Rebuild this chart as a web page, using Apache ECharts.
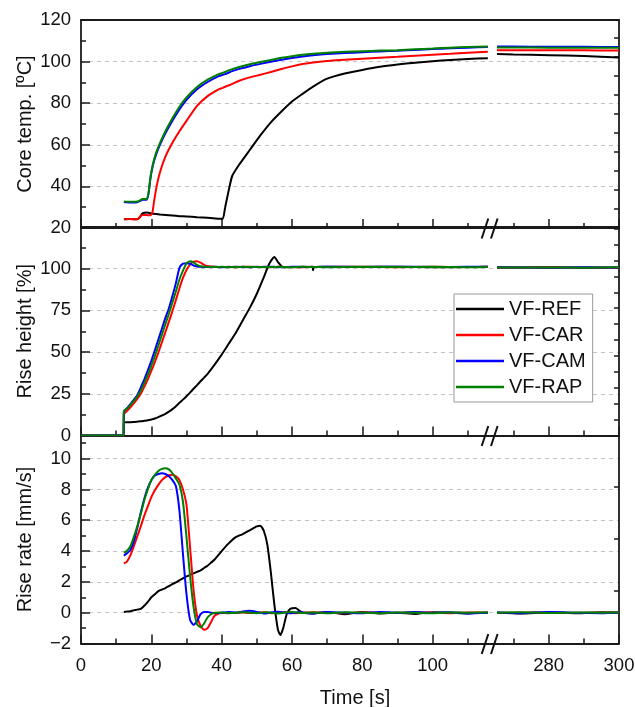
<!DOCTYPE html>
<html>
<head>
<meta charset="utf-8">
<script src="https://cdn.jsdelivr.net/npm/echarts@6.0.0/dist/echarts.min.js"></script>
<style>
  html, body { margin: 0; padding: 0; background: #fff; }
  #chart { width: 635px; height: 707px; }
</style>
</head>
<body>
<div id="chart"></div>
<script>
var seriesNames = ['VF-REF', 'VF-CAR', 'VF-CAM', 'VF-RAP'];
var seriesColors = ['#000000', '#ff0000', '#0000ff', '#008000'];

// x axis is broken between ~116 s and ~264 s
var xTickLabels = [0, 20, 40, 60, 80, 100, 280, 300];
var xMinorTicks = [10, 30, 50, 70, 90, 110, 270, 290];
var breakStart = 116.5;
var breakEnd = 263.5;

// core temperature [ºC]
var tempTime = [12.2, 14, 16, 16.8, 17.5, 18.7, 19.2, 19.8, 20.3, 20.8, 21.5, 22.5, 24, 26, 28, 30, 33, 36, 39, 40.3,
  41, 42, 43, 45, 48, 51, 54, 57, 60, 63, 66, 70, 75, 80, 85, 90, 95, 100, 105, 110, 115.7,
  265.3, 270, 280, 290, 300];
var tempREF = [24.2, 24.3, 24.2, 25.3, 27.0, 27.5, 27.3, 27.1, 26.9, 26.8, 26.7, 26.5, 26.3, 26.0, 25.7, 25.5, 25.2, 24.9, 24.5, 24.4,
  30, 38, 45, 50.5, 57.5, 64.5, 70.8, 76, 80.8, 84.5, 88, 91.8, 94.3, 96, 97.5, 98.6, 99.5, 100.2, 100.8, 101.3, 101.6,
  103.6, 103.4, 103.1, 102.7, 102.0];
var tempCAR = [24.2, 24.3, 24.2, 25.5, 26.2, 26.2, 26.1, 26.2, 27.5, 33, 40, 47, 54.3, 61, 66.5, 71.5, 78.7, 83.4, 86.5, 87.4,
  87.9, 88.6, 89.3, 90.8, 92.4, 93.7, 95.0, 96.4, 97.7, 98.8, 99.6, 100.3, 100.9, 101.4, 101.9, 102.3, 102.8, 103.3, 103.8, 104.3, 104.7,
  105.5, 105.5, 105.4, 105.4, 105.3];
var tempCAM = [32.5, 32.3, 32.4, 33.0, 33.6, 33.6, 36.5, 44.5, 49, 52.3, 56, 60.2, 65.5, 71.6, 77, 81.6, 86.7, 90.2, 92.9, 93.6,
  94.0, 94.7, 95.4, 96.5, 97.8, 98.9, 99.9, 100.9, 101.7, 102.4, 103.0, 103.6, 104.1, 104.5, 104.9, 105.2, 105.6, 106.0, 106.4, 106.7, 107.0,
  107.2, 107.2, 107.1, 107.1, 107.0];
var tempRAP = [32.8, 32.6, 32.7, 33.3, 33.9, 33.9, 37, 45, 49.5, 53, 56.8, 61, 66.5, 72.8, 78.3, 82.8, 87.8, 91.3, 93.9, 94.6,
  95.0, 95.8, 96.4, 97.4, 98.7, 99.8, 100.8, 101.8, 102.6, 103.3, 103.8, 104.3, 104.7, 105.0, 105.3, 105.5, 105.9, 106.3, 106.7, 107.0, 107.3,
  106.8, 106.8, 106.7, 106.6, 106.6];

// rise height [%]
var heightTime = [0, 12.1, 12.2, 13, 14, 15, 16, 17, 18, 19, 20, 21, 22, 23, 24, 25, 26, 27, 28, 29, 30, 31, 32, 33, 34, 35, 36,
  38, 40, 42, 44, 46, 48, 50, 52, 53.5, 55, 56, 57.5, 60, 63, 65.8, 66, 66.2, 70, 80, 90, 100, 110, 115.7,
  265.3, 280, 290, 300];
var heightREF = [0, 0, 7.9, 7.95, 8.0, 8.1, 8.3, 8.5, 8.8, 9.1, 9.6, 10.2, 11.0, 12.0, 13.0, 14.3, 15.8, 17.6, 19.6, 21.5, 23.5, 25.7, 28, 30.2, 32.5, 34.7, 37,
  42.5, 48.5, 55, 61.5, 69, 76.5, 85, 95, 102.8, 107, 104, 100.8, 101.0, 101.2, 101.0, 99.0, 101.0, 101.1, 101.0, 101.2, 100.9, 101.0, 101.1,
  100.7, 100.8, 100.6, 100.7];
var heightCAR = [0, 0, 12.7, 14.5, 16.8, 19.3, 22, 25, 29.2, 33.7, 38.7, 44, 49.7, 55.8, 62, 68.3, 74.6, 81.3, 88.3, 94.5, 99.2, 102.5, 104.2, 104.5, 103.6, 102.3, 101.6,
  101.2, 101.0, 101.1, 100.9, 101.1, 101.2, 101.0, 101.1, 100.9, 101.0, 101.2, 101.1, 101.0, 100.9, 101.1, 101.2, 101.1, 101.0, 101.2, 100.9, 101.1, 101.0, 101.1,
  100.6, 100.8, 100.7, 100.6];
var heightCAM = [0, 0, 14.3, 16.2, 18.6, 21.4, 24.2, 28.8, 33.7, 39, 44.8, 51.1, 57.5, 64, 70.5, 76.3, 83.6, 91.5, 100.5, 103.1, 103.3, 103.0, 101.9, 101.3, 101.1, 101.0, 101.0,
  101.1, 100.9, 101.0, 101.2, 101.0, 100.9, 101.1, 101.0, 101.2, 101.1, 100.9, 101.0, 101.2, 101.0, 101.1, 101.1, 101.0, 101.2, 101.0, 101.2, 101.0, 101.1, 101.1,
  100.8, 100.6, 100.8, 100.7];
var heightRAP = [0, 0, 14.8, 16, 18.2, 20.7, 23.4, 27, 31.6, 36.5, 41.8, 47.6, 53.9, 60.3, 66.8, 73, 79.7, 86.5, 93.5, 98.8, 103.2, 104.4, 103.8, 102.3, 101.5, 101.2, 101.1,
  101.0, 101.1, 100.9, 101.0, 101.1, 101.0, 101.0, 100.9, 101.0, 101.0, 101.1, 101.0, 100.9, 101.1, 101.0, 101.0, 101.0, 100.9, 101.1, 101.0, 101.1, 100.9, 101.0,
  100.7, 100.7, 100.6, 100.8];

// rise rate [mm/s]
var rateTime = [12.2, 13, 14, 15, 16, 17, 18, 19, 20, 21, 22, 23, 24, 25, 26, 27, 28, 29, 30, 31, 32, 33, 34, 35, 36, 37, 38,
  40, 42, 44, 46, 48, 50, 51, 52, 53, 54, 55, 56, 56.7, 57.5, 58.5, 59.5, 61, 62, 63, 66,
  70, 75, 80, 85, 90, 95, 100, 105, 110, 115.7,
  265.3, 272, 280, 288, 295, 300];
var rateREF = [0.05, 0.07, 0.1, 0.15, 0.2, 0.25, 0.45, 0.7, 1.0, 1.2, 1.4, 1.5, 1.6, 1.72, 1.85, 1.97, 2.1, 2.22, 2.35, 2.45, 2.55, 2.65, 2.75, 2.9, 3.05, 3.25, 3.45,
  4.0, 4.5, 4.9, 5.1, 5.35, 5.6, 5.65, 5.3, 4.4, 2.6, 0.5, -1.1, -1.45, -1.0, -0.1, 0.25, 0.3, 0.15, 0.0, -0.05,
  0.05, -0.1, 0.05, -0.05, 0.0, -0.08, 0.03, 0.0, -0.05, 0.02,
  0.0, -0.05, 0.02, -0.04, 0.03, 0.0];
var rateCAR = [3.2, 3.3, 3.7, 4.3, 4.95, 5.6, 6.3, 6.9, 7.5, 7.95, 8.3, 8.6, 8.8, 8.92, 8.95, 8.85, 8.6, 8.0, 7.0, 4.3, 1.5, -0.2, -0.85, -1.1, -1.0, -0.6, -0.2,
  0.0, -0.03, 0.0, 0.02, -0.02, 0.0, 0.02, 0.03, 0.0, -0.03, -0.02, 0.0, 0.02, 0.03, 0.02, 0.0, -0.03, -0.02, 0.0, 0.03,
  0.0, -0.03, 0.02, 0.0, -0.02, 0.03, 0.0, -0.03, 0.02, 0.0,
  -0.02, 0.0, 0.02, -0.02, 0.0, 0.02];
var rateCAM = [3.7, 3.85, 4.05, 4.6, 5.5, 6.5, 7.4, 8.1, 8.6, 8.9, 9.0, 9.05, 9.0, 8.85, 8.6, 8.2, 6.6, 3.8, 1.2, -0.45, -0.78, -0.55, -0.1, 0.05, 0.05, 0.0, -0.03,
  0.0, 0.05, 0.0, 0.08, 0.12, 0.05, 0.0, -0.05, -0.03, 0.02, 0.05, 0.06, 0.05, 0.02, 0.0, -0.04, 0.0, 0.04, 0.02, -0.05,
  0.05, 0.0, -0.04, 0.05, 0.0, 0.04, -0.02, 0.03, -0.05, 0.0,
  0.02, -0.03, 0.04, 0.0, -0.03, 0.02];
var rateRAP = [3.9, 4.0, 4.3, 4.9, 5.6, 6.4, 7.3, 8.0, 8.6, 8.95, 9.2, 9.33, 9.38, 9.3, 9.05, 8.7, 8.3, 7.2, 4.9, 2.4, 0.4, -0.75, -0.95, -0.7, -0.3, -0.1, 0.0,
  0.02, -0.02, 0.0, 0.03, 0.0, -0.03, 0.0, 0.02, 0.03, 0.0, -0.03, -0.05, -0.04, 0.0, 0.03, 0.04, 0.02, 0.0, -0.02, 0.02,
  -0.04, 0.03, 0.0, -0.03, 0.02, 0.0, -0.04, 0.02, 0.0, 0.02,
  0.0, 0.03, -0.02, 0.02, 0.0, 0.01];

// y tick labels per panel
var tempTicks = [20, 40, 60, 80, 100, 120];
var heightTicks = [0, 25, 50, 75, 100];
var rateTicks = [-2, 0, 2, 4, 6, 8, 10];

var FONT = 'Liberation Sans, Arial, sans-serif';
var INK = '#1a1a1a';

var panels = [
  { top: 20, height: 208, name: 'Core temp. [ºC]', min: 20, max: 120, interval: 20, ticks: tempTicks,
    rightMax: 10.95, time: tempTime, values: [tempREF, tempCAR, tempCAM, tempRAP] },
  { top: 227, height: 208.5, name: 'Rise height [%]', min: 0, max: 125, interval: 25, ticks: heightTicks,
    rightMax: 13.1, time: heightTime, values: [heightREF, heightCAR, heightCAM, heightRAP] },
  { top: 435.5, height: 208, name: 'Rise rate [mm/s]', min: -2, max: 11.5, interval: 2, ticks: rateTicks,
    rightMax: 3.97, time: rateTime, values: [rateREF, rateCAR, rateCAM, rateRAP] }
];

// pair time/value and leave a hole across the axis break
function toPairs(times, values) {
  var out = [];
  for (var i = 0; i < times.length; i++) {
    if (i > 0 && times[i - 1] < breakStart && times[i] > breakEnd) {
      out.push([(breakStart + breakEnd) / 2, null]);
    }
    out.push([times[i], values[i]]);
  }
  return out;
}

// an x axis that only draws inward ticks at given values
function tickAxis(gridIndex, values, len) {
  return {
    type: 'value', gridIndex: gridIndex, position: 'bottom', min: 0, max: 300,
    breaks: [{ start: breakStart, end: breakEnd, gap: 0 }],
    breakArea: { show: false },
    axisLine: { show: false, onZero: false },
    axisTick: { show: true, inside: true, length: len, customValues: values, lineStyle: { color: INK, width: 1.5 } },
    axisLabel: { show: false }, splitLine: { show: false }
  };
}

var grids = [], xAxes = [], yAxes = [], series = [], marks = [];

panels.forEach(function (p, i) {
  var last = i === panels.length - 1;
  grids.push({ left: 81, right: 16, top: p.top, height: p.height, outerBoundsMode: 'none' });

  var xMain = xAxes.length;
  xAxes.push({
    type: 'value', gridIndex: i, position: 'bottom', min: 0, max: 300,
    breaks: [{ start: breakStart, end: breakEnd, gap: 0 }],
    breakArea: { show: false },
    axisLine: { show: true, onZero: false, lineStyle: { color: INK, width: 1.8 } },
    axisTick: { show: false },
    splitLine: { show: false },
    axisLabel: {
      show: last, customValues: xTickLabels, margin: 13, fontSize: 18.5, fontFamily: FONT, color: '#111'
    },
    name: last ? 'Time [s]' : '', nameLocation: 'middle', nameGap: 45, nameMoveOverlap: false,
    nameTextStyle: { fontSize: 20, fontFamily: FONT, color: '#111', padding: [0, 0, 0, 10] }
  });
  xAxes.push(tickAxis(i, xTickLabels, 9));
  xAxes.push(tickAxis(i, xMinorTicks, 5));
  // top frame line
  xAxes.push({
    type: 'value', gridIndex: i, position: 'top', min: 0, max: 300,
    axisLine: { show: true, onZero: false, lineStyle: { color: INK, width: 1.8 } },
    axisTick: { show: false }, axisLabel: { show: false }, splitLine: { show: false }
  });

  yAxes.push({
    type: 'value', gridIndex: i, position: 'left', min: p.min, max: p.max, interval: p.interval,
    axisLine: { show: true, onZero: false, lineStyle: { color: INK, width: 1.8 } },
    axisTick: { show: true, inside: true, length: 9, lineStyle: { color: INK, width: 1.5 } },
    minorTick: { show: true, splitNumber: 2, length: 5, lineStyle: { color: INK, width: 1.5 } },
    splitLine: { show: true, lineStyle: { color: '#c4c4c4', width: 1, type: [4, 4] } },
    axisLabel: {
      margin: 10, fontSize: 18.5, fontFamily: FONT, color: '#111',
      formatter: (function (ticks) {
        return function (v) { return ticks.indexOf(v) >= 0 ? String(v).replace('-', '\u2212') : ''; };
      })(p.ticks)
    },
    name: p.name, nameLocation: 'middle', nameRotate: 90, nameGap: 46, nameMoveOverlap: false,
    nameTextStyle: { fontSize: 20, fontFamily: FONT, color: '#111' }
  });
  // right frame with its own inward ticks
  yAxes.push({
    type: 'value', gridIndex: i, position: 'right', min: 0, max: p.rightMax, interval: 1,
    axisLine: { show: true, onZero: false, lineStyle: { color: INK, width: 1.8 } },
    axisTick: { show: true, inside: true, length: 5, lineStyle: { color: INK, width: 1.5 } },
    axisLabel: { show: false }, splitLine: { show: false }
  });

  p.values.forEach(function (vals, k) {
    series.push({
      type: 'line', name: seriesNames[k], xAxisIndex: xMain, yAxisIndex: i * 2,
      data: toPairs(p.time, vals), showSymbol: false, symbol: 'none', smooth: 0.2,
      lineStyle: { color: seriesColors[k], width: 2 }, itemStyle: { color: seriesColors[k] },
      z: 3 + k
    });
  });

  // "//" break marks across the bottom axis
  var b = p.top + p.height;
  [0, 9.3].forEach(function (dx) {
    marks.push({
      type: 'line', z: 100,
      shape: { x1: 481.7 + dx, y1: b + 10.5, x2: 488.3 + dx, y2: b - 9.5 },
      style: { stroke: '#111', lineWidth: 2 }
    });
  });
});

var chart = echarts.init(document.getElementById('chart'));
chart.setOption({
  animation: false,
  backgroundColor: '#fff',
  grid: grids,
  xAxis: xAxes,
  yAxis: yAxes,
  legend: {
    data: seriesNames, orient: 'vertical', left: 454, top: 294,
    icon: 'rect', itemWidth: 48, itemHeight: 2.5, itemGap: 6,
    padding: [5, 7, 5, 2], borderColor: '#999', borderWidth: 1, backgroundColor: '#fff',
    selectedMode: false,
    textStyle: { fontSize: 20, fontFamily: FONT, color: '#111', lineHeight: 20 }
  },
  graphic: marks,
  series: series
});
</script>
</body>
</html>
